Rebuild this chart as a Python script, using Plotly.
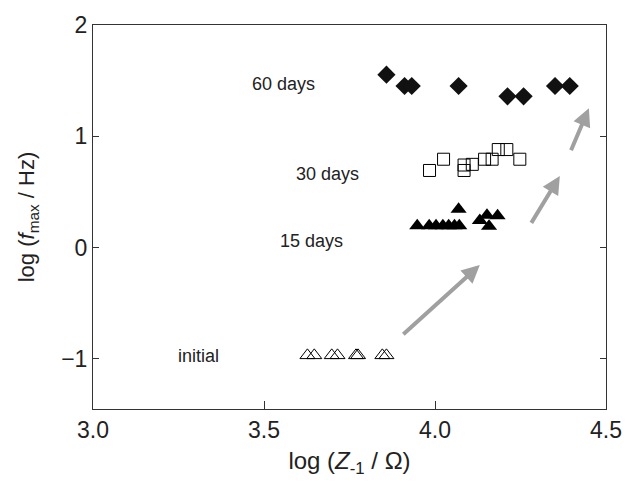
import plotly.graph_objects as go

# 60 days (filled diamonds)
d60_x = [3.858, 3.911, 3.932, 4.069, 4.212, 4.259, 4.351, 4.394]
d60_y = [1.554, 1.452, 1.452, 1.452, 1.359, 1.359, 1.452, 1.452]

# 30 days (open squares)
d30_x = [3.984, 4.025, 4.085, 4.085, 4.109, 4.145, 4.167, 4.185, 4.210, 4.248]
d30_y = [0.693, 0.794, 0.742, 0.693, 0.748, 0.794, 0.794, 0.881, 0.881, 0.794]

# 15 days (filled triangles)
d15_x = [3.948, 3.983, 4.003, 4.023, 4.040, 4.057, 4.071, 4.069, 4.131, 4.152, 4.183, 4.158]
d15_y = [0.197, 0.197, 0.197, 0.197, 0.197, 0.197, 0.197, 0.345, 0.243, 0.290, 0.287, 0.191]

# initial (open triangles)
d0_x = [3.627, 3.647, 3.698, 3.715, 3.769, 3.775, 3.846, 3.858]
d0_y = [-0.968, -0.968, -0.968, -0.968, -0.968, -0.968, -0.968, -0.968]

# group labels
lab_text = ["60 days", "30 days", "15 days", "initial"]
lab_x = [3.556, 3.687, 3.638, 3.308]
lab_y = [1.470, 0.661, 0.061, -0.974]

# arrows (start -> tip)
arr_x0 = [3.903, 4.279, 4.396]
arr_y0 = [-0.791, 0.209, 0.861]
arr_x1 = [4.131, 4.365, 4.450]
arr_y1 = [-0.157, 0.643, 1.252]

FONT = "Liberation Sans, Arial, Helvetica, sans-serif"

fig = go.Figure()
fig.add_trace(go.Scatter(x=d0_x, y=d0_y, mode="markers",
                         marker=dict(symbol="triangle-up-open", size=13, color="black",
                                     line=dict(width=1, color="black"))))
fig.add_trace(go.Scatter(x=d15_x, y=d15_y, mode="markers",
                         marker=dict(symbol="triangle-up", size=14, color="black")))
fig.add_trace(go.Scatter(x=d30_x, y=d30_y, mode="markers",
                         marker=dict(symbol="square-open", size=12, color="black",
                                     line=dict(width=1, color="black"))))
fig.add_trace(go.Scatter(x=d60_x, y=d60_y, mode="markers",
                         marker=dict(symbol="diamond", size=14, color="#111111")))

annotations = []
for t, x, y in zip(lab_text, lab_x, lab_y):
    annotations.append(dict(x=x, y=y, xref="x", yref="y", text=t, showarrow=False,
                            font=dict(family=FONT, size=18, color="#222")))
for x0, y0, x1, y1 in zip(arr_x0, arr_y0, arr_x1, arr_y1):
    annotations.append(dict(x=x1, y=y1, ax=x0, ay=y0, xref="x", yref="y",
                            axref="x", ayref="y", text="", showarrow=True,
                            arrowhead=2, arrowsize=0.9, arrowwidth=4,
                            arrowcolor="#a0a0a0"))

fig.update_layout(
    width=634, height=484,
    margin=dict(l=93, r=15, t=17, b=75),
    paper_bgcolor="white", plot_bgcolor="white",
    showlegend=False,
    font=dict(family=FONT, size=23, color="#222"),
    annotations=annotations,
    xaxis=dict(range=[3.0, 4.5], tickvals=[3.0, 3.5, 4.0, 4.5],
               ticktext=["3.0", "3.5", "4.0", "4.5"], ticklabeloverflow="allow",
               showgrid=False, zeroline=False, showline=True, linecolor="#333",
               linewidth=1, mirror=True, ticks="inside", ticklen=8, tickcolor="#333",
               tickfont=dict(size=23),
               title=dict(text="log (<i>Z</i><sub>-1</sub> / Ω)", font=dict(size=24),
                          standoff=10)),
    yaxis=dict(range=[-1.45, 2.0], tickvals=[-1, 0, 1, 2],
               showgrid=False, zeroline=False, showline=True, linecolor="#333",
               linewidth=1, mirror="ticks", ticks="inside", ticklen=6, tickcolor="#333",
               tickfont=dict(size=23), ticklabeloverflow="allow",
               title=dict(text="log (<i>f</i><sub>max</sub> / Hz)", font=dict(size=22),
                          standoff=20)),
)

fig.write_html("out.html")
